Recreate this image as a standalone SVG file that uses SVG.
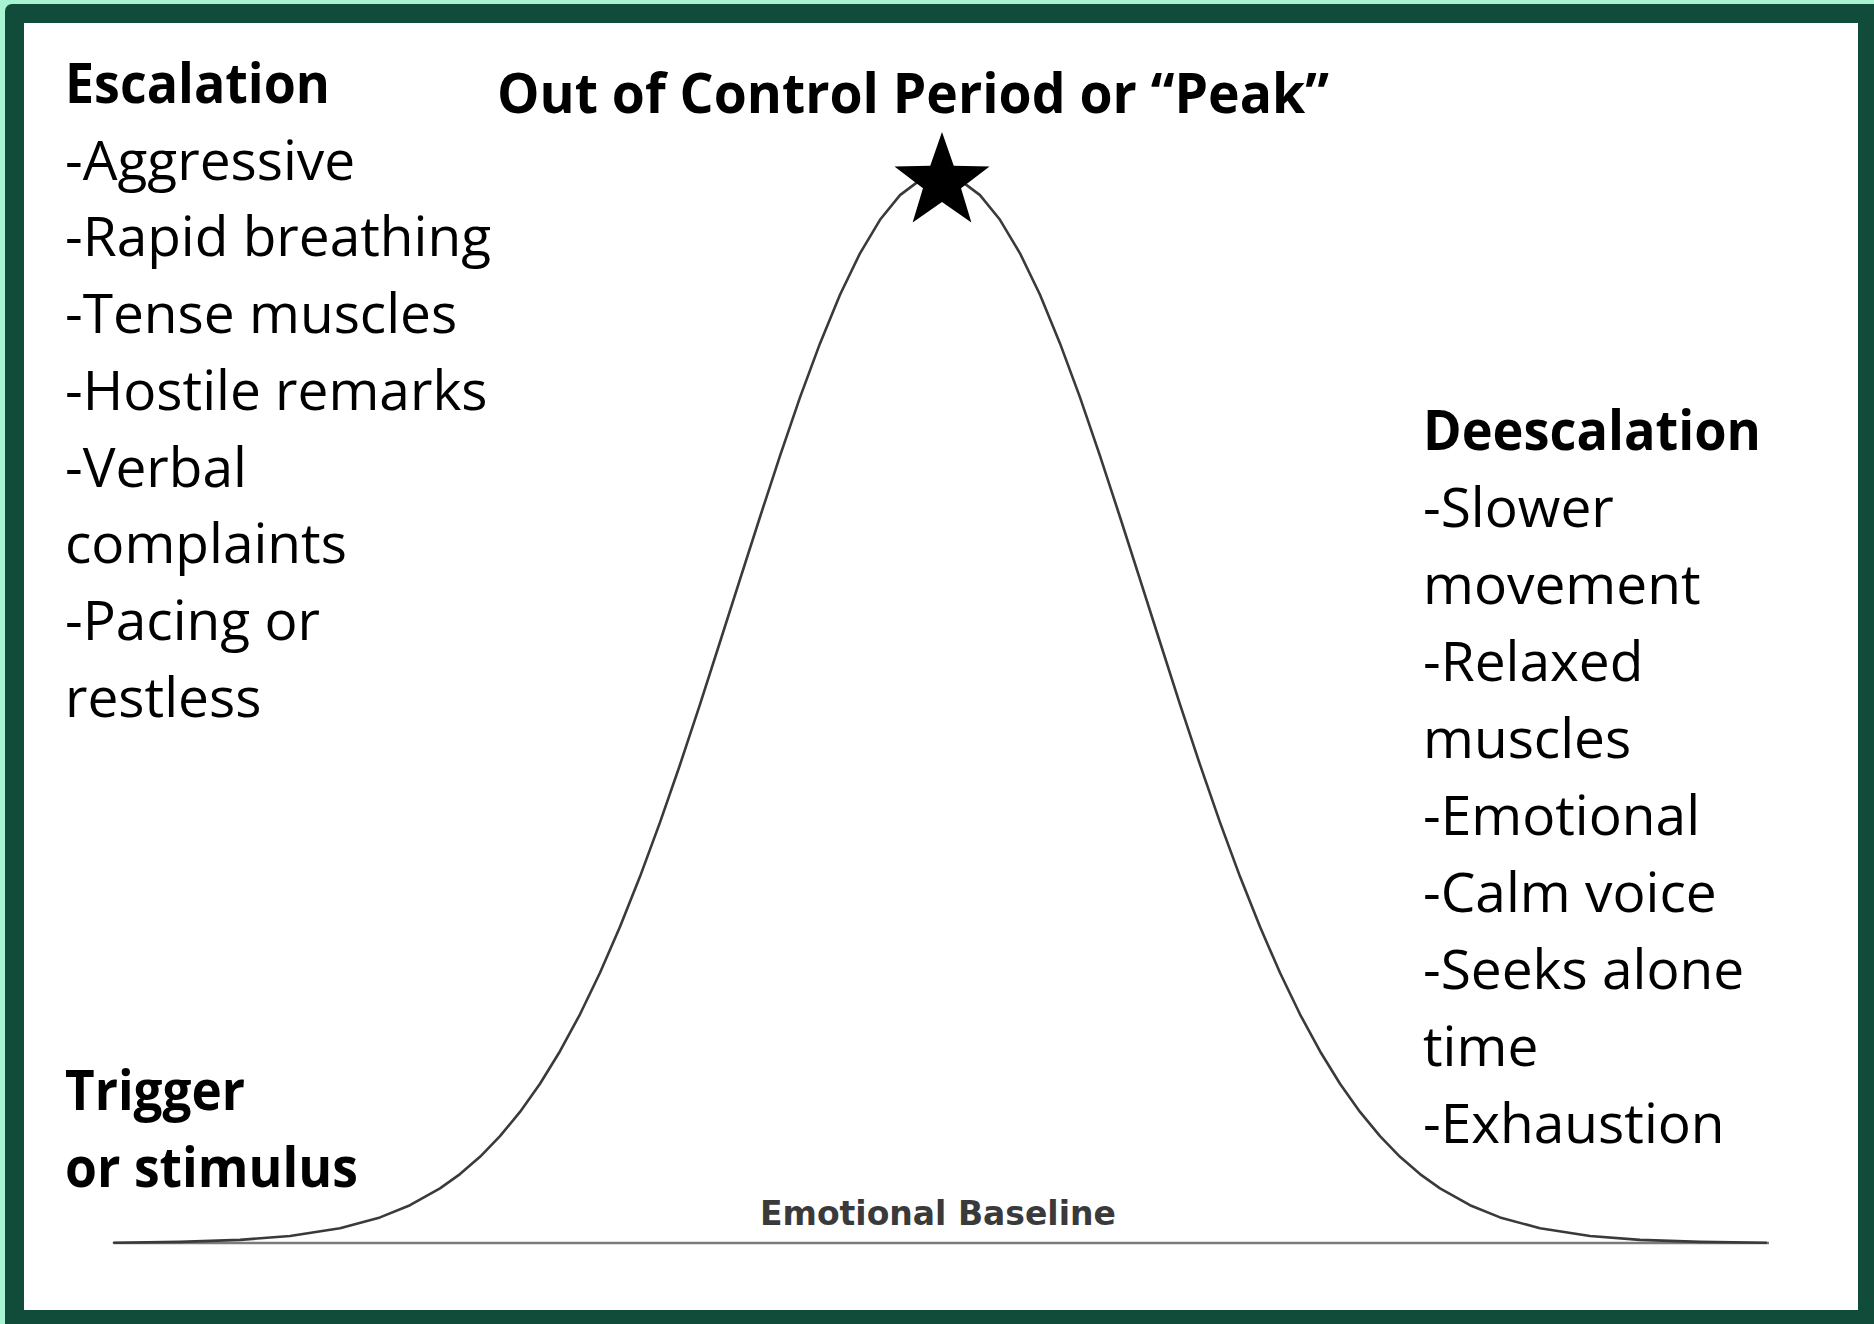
<svg xmlns="http://www.w3.org/2000/svg" width="1874" height="1324" viewBox="0 0 1874 1324">
  <style>
    .txt { font-family: "Open Sans", "Liberation Sans", sans-serif; font-size: 55px; fill: #000; }
    .bold { font-weight: bold; }
    .curve { fill: none; stroke: #3a3a3a; stroke-width: 2.6; stroke-linejoin: round; stroke-linecap: round; }
    .base { stroke: #7c7c7c; stroke-width: 2.5; }
    .baselabel { font-family: "DejaVu Sans", sans-serif; font-weight: bold; font-size: 33px; fill: #3a3a3a; }
  </style>
  <rect x="0" y="0" width="1874" height="1324" fill="#a8f3d2"/>
  <rect x="5" y="4" width="1880" height="1330" rx="7" fill="#114c3b"/>
  <rect x="24" y="23" width="1834" height="1287" fill="#ffffff"/>

  <g id="connectors">
    <line class="base" x1="114" y1="1243" x2="1769" y2="1243"/>
    <path class="curve" d="M114,1242.7 L180,1241.9 L240,1239.9 L290,1236 L340,1228.3 L380,1217.4 L410,1205.2 L440,1188.4 L460,1174.1 L480,1156.8 L500,1136.2 L520,1111.9 L540,1083.7 L560,1051.2 L580,1014.3 L600,972.8 L620,926.8 L640,876.6 L660,822.4 L680,764.7 L700,704.3 L720,642 L740,579.3 L760,517 L780,455.8 L800,397.4 L820,343.4 L840,294.8 L860,253.3 L880,219.8 L900,195.1 L920,180.1 L940,175 L960,180.1 L980,195.1 L1000,219.8 L1020,253.3 L1040,294.8 L1060,343.4 L1080,397.4 L1100,455.8 L1120,517 L1140,579.3 L1160,642 L1180,704.3 L1200,764.7 L1220,822.4 L1240,876.6 L1260,926.8 L1280,972.8 L1300,1014.3 L1320,1051.2 L1340,1083.7 L1360,1111.9 L1380,1136.2 L1400,1156.8 L1420,1174.1 L1440,1188.4 L1470,1205.2 L1500,1217.4 L1540,1228.3 L1590,1236 L1640,1239.9 L1700,1241.9 L1766,1242.7"/>
  </g>

  <g id="peak-star">
    <polygon points="942,132 953.76,165.82 989.55,166.55 961.02,188.18 971.39,222.45 942,202 912.61,222.45 922.98,188.18 894.45,166.55 930.24,165.82" fill="#000"/>
  </g>

  <g id="peak-title">
    <text class="txt bold" x="497" y="113" textLength="832" lengthAdjust="spacingAndGlyphs">Out of Control Period or “Peak”</text>
  </g>

  <g id="escalation">
    <text class="txt bold" x="65" y="103" textLength="265" lengthAdjust="spacingAndGlyphs">Escalation</text>
    <text class="txt" x="65" y="180">-Aggressive</text>
    <text class="txt" x="65" y="256">-Rapid breathing</text>
    <text class="txt" x="65" y="333">-Tense muscles</text>
    <text class="txt" x="65" y="410">-Hostile remarks</text>
    <text class="txt" x="65" y="487">-Verbal</text>
    <text class="txt" x="65" y="563">complaints</text>
    <text class="txt" x="65" y="640">-Pacing or</text>
    <text class="txt" x="65" y="717">restless</text>
  </g>

  <g id="trigger">
    <text class="txt bold" x="65" y="1110" textLength="180" lengthAdjust="spacingAndGlyphs">Trigger</text>
    <text class="txt bold" x="65" y="1187" textLength="293" lengthAdjust="spacingAndGlyphs">or stimulus</text>
  </g>

  <g id="deescalation">
    <text class="txt bold" x="1423" y="450" textLength="338" lengthAdjust="spacingAndGlyphs">Deescalation</text>
    <text class="txt" x="1423" y="527">-Slower</text>
    <text class="txt" x="1423" y="604">movement</text>
    <text class="txt" x="1423" y="681">-Relaxed</text>
    <text class="txt" x="1423" y="758">muscles</text>
    <text class="txt" x="1423" y="835">-Emotional</text>
    <text class="txt" x="1423" y="912">-Calm voice</text>
    <text class="txt" x="1423" y="989">-Seeks alone</text>
    <text class="txt" x="1423" y="1066">time</text>
    <text class="txt" x="1423" y="1143">-Exhaustion</text>
  </g>

  <g id="baseline-label">
    <text class="baselabel" x="760" y="1225">Emotional Baseline</text>
  </g>
</svg>
